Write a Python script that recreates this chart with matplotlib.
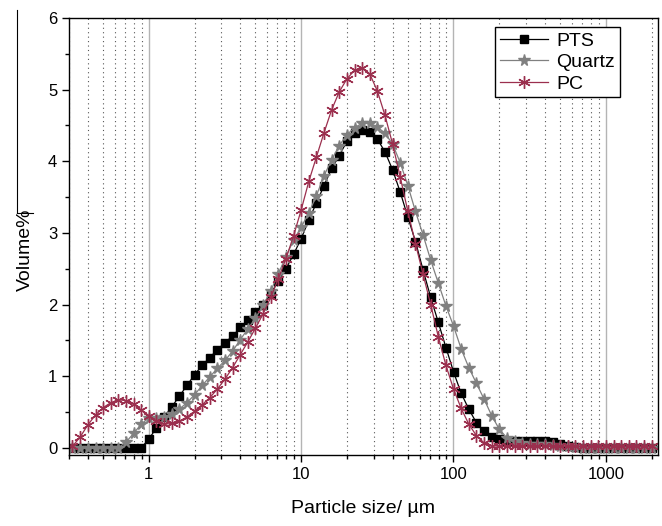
import numpy as np
import matplotlib
matplotlib.use("Agg")
import matplotlib.pyplot as plt
from matplotlib.ticker import FixedLocator, LogLocator, MultipleLocator, NullFormatter
from matplotlib.lines import Line2D

plt.rcParams['font.family'] = ['Liberation Sans', 'DejaVu Sans']

# particle size bins (um)
size_um = [0.316, 0.355, 0.399, 0.448, 0.502, 0.564, 0.632, 0.710, 0.796, 0.893,
           1.002, 1.125, 1.262, 1.416, 1.589, 1.783, 2.000, 2.244, 2.518, 2.825,
           3.170, 3.557, 3.991, 4.477, 5.024, 5.637, 6.325, 7.096, 7.962, 8.934,
           10.02, 11.25, 12.62, 14.16, 15.89, 17.83, 20.00, 22.44, 25.18, 28.25,
           31.70, 35.57, 39.91, 44.77, 50.24, 56.37, 63.25, 70.96, 79.62, 89.34,
           100.2, 112.5, 126.2, 141.6, 158.9, 178.3, 200.0, 224.4, 251.8, 282.5,
           317.0, 355.7, 399.1, 447.7, 502.4, 563.7, 632.5, 709.6, 796.2, 893.4,
           1002, 1125, 1262, 1416, 1589, 1783, 2000]

pts = [0, 0, 0, 0, 0, 0, 0, 0, 0, 0,
       0.12, 0.28, 0.43, 0.57, 0.72, 0.87, 1.02, 1.15, 1.26, 1.37,
       1.47, 1.56, 1.68, 1.78, 1.89, 2.00, 2.15, 2.33, 2.50, 2.70,
       2.92, 3.18, 3.42, 3.66, 3.90, 4.08, 4.28, 4.40, 4.43, 4.41,
       4.31, 4.13, 3.88, 3.57, 3.22, 2.88, 2.48, 2.10, 1.75, 1.40,
       1.06, 0.76, 0.54, 0.35, 0.23, 0.15, 0.12, 0.10, 0.10, 0.10,
       0.10, 0.10, 0.09, 0.08, 0.06, 0.03, 0.01, 0, 0, 0,
       0, 0, 0, 0, 0, 0, 0]

quartz = [0, 0, 0, 0, 0, 0, 0, 0.08, 0.20, 0.33,
          0.42, 0.42, 0.43, 0.47, 0.54, 0.63, 0.74, 0.87, 0.99, 1.11,
          1.22, 1.35, 1.51, 1.66, 1.81, 1.99, 2.19, 2.43, 2.67, 2.90,
          3.08, 3.28, 3.52, 3.80, 4.02, 4.22, 4.37, 4.47, 4.53, 4.53,
          4.48, 4.39, 4.24, 3.98, 3.66, 3.30, 2.97, 2.62, 2.30, 1.98,
          1.70, 1.38, 1.12, 0.90, 0.68, 0.45, 0.26, 0.14, 0.09, 0.07,
          0.06, 0.05, 0.05, 0.04, 0.03, 0.02, 0.01, 0, 0, 0,
          0, 0, 0, 0, 0, 0, 0]

pc = [0.02, 0.15, 0.32, 0.46, 0.56, 0.63, 0.67, 0.66, 0.61, 0.53,
      0.45, 0.37, 0.33, 0.34, 0.37, 0.43, 0.51, 0.60, 0.70, 0.82,
      0.96, 1.12, 1.30, 1.48, 1.67, 1.87, 2.10, 2.36, 2.64, 2.96,
      3.32, 3.72, 4.06, 4.40, 4.72, 4.97, 5.15, 5.27, 5.30, 5.22,
      4.98, 4.64, 4.24, 3.78, 3.30, 2.85, 2.42, 2.00, 1.55, 1.15,
      0.82, 0.55, 0.33, 0.17, 0.07, 0.03, 0.02, 0.02, 0.02, 0.02,
      0.02, 0.02, 0.02, 0.02, 0.02, 0.02, 0.02, 0.02, 0.02, 0.02,
      0.02, 0.02, 0.02, 0.02, 0.02, 0.02, 0.02]

pc_color = '#9b2f4e'

fig = plt.figure(figsize=(6.62, 5.26), dpi=100)
ax = fig.add_axes([0.1042, 0.135, 0.8897, 0.8308])

ax.plot(size_um, pts, color='black', lw=0.9, marker='s', ms=5.5, label='PTS')
ax.plot(size_um, quartz, color='#808080', lw=0.9, marker='*', ms=8.5, label='Quartz')
ax.plot(size_um, pc, color=pc_color, lw=0.9, marker=(6, 2, 0), ms=9, mew=1.0, label='PC')

ax.set_xscale('log')
ax.set_xlim(0.3, 2200)
ax.set_ylim(-0.1, 6)

ax.xaxis.set_major_locator(FixedLocator([1, 10, 100, 1000]))
ax.set_xticklabels(['1', '10', '100', '1000'])
ax.xaxis.set_minor_locator(LogLocator(base=10, subs=np.arange(2, 10)))
ax.xaxis.set_minor_formatter(NullFormatter())
ax.yaxis.set_major_locator(MultipleLocator(1))
ax.yaxis.set_minor_locator(MultipleLocator(0.5))

ax.tick_params(which='major', direction='out', length=5, width=1, labelsize=12,
               top=False, right=False)
ax.tick_params(which='minor', direction='out', length=3, width=1, top=False, right=False)

# vertical grid: solid grey at decades, dotted at minor ticks
ax.grid(which='major', axis='x', color='#b4b4b4', lw=1.0, ls='-')
ax.grid(which='minor', axis='x', color='#555555', lw=0.8, ls=(0, (1, 3)))
ax.set_axisbelow(True)

for s in ax.spines.values():
    s.set_linewidth(1.0)
    s.set_color('black')

ax.set_xlabel('Particle size/ \u00b5m', fontsize=14, labelpad=13)
fig.text(25 / 662, 1 - 250 / 526, 'Volume%', rotation=90, fontsize=14,
         ha='center', va='center')

leg = ax.legend(loc='upper right', bbox_to_anchor=(0.935, 0.979), fontsize=14,
                handlelength=2.5, handletextpad=0.4, labelspacing=0.2,
                borderpad=0.25, borderaxespad=0, fancybox=False,
                edgecolor='black', framealpha=1)
leg.get_frame().set_linewidth(1.0)

# stray line left of the y label in the original
fig.add_artist(Line2D([17 / 662, 17 / 662], [1 - 10 / 526, 1 - 213 / 526], color='black', lw=0.8))
fig.add_artist(Line2D([17 / 662, 33 / 662], [1 - 213 / 526, 1 - 213 / 526], color='black', lw=0.8))

fig.savefig('out.png', dpi=100)
